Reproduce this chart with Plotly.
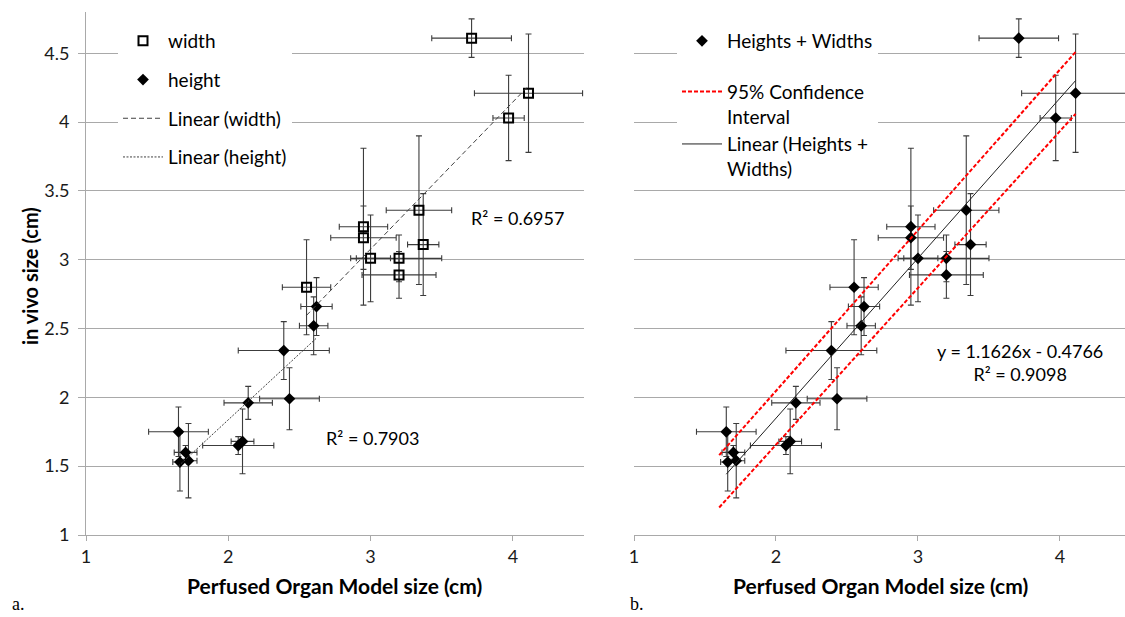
import plotly.graph_objects as go

# ---- data ----
width_x = [3.71, 4.11, 3.97, 3.34, 2.95, 2.95, 3.00, 3.20, 3.20, 3.37, 2.55]
width_y = [4.61, 4.21, 4.03, 3.36, 3.24, 3.16, 3.01, 3.01, 2.89, 3.11, 2.80]
width_xerr = [0.28, 0.38, 0.11, 0.23, 0.17, 0.23, 0.14, 0.30, 0.26, 0.11, 0.17]
width_yerr = [0.14, 0.43, 0.31, 0.54, 0.57, 0.23, 0.315, 0.17, 0.17, 0.37, 0.345]

height_x = [2.62, 2.60, 2.39, 2.43, 2.14, 2.10, 2.07, 1.65, 1.70, 1.66, 1.72]
height_y = [2.66, 2.52, 2.34, 1.99, 1.96, 1.68, 1.65, 1.75, 1.60, 1.53, 1.54]
height_xerr = [0.11, 0.10, 0.32, 0.21, 0.17, 0.08, 0.25, 0.21, 0.08, 0.05, 0.06]
height_yerr = [0.21, 0.21, 0.21, 0.225, 0.12, 0.235, 0.065, 0.18, 0.05, 0.21, 0.27]

# trendline coefficients (slope, intercept)
width_fit = (1.069, -0.130)
height_fit = (0.958, -0.079)
combined_fit = (1.1626, -0.4766)

# 95% confidence interval line end points
ci_x = [1.60, 4.11]
ci_upper = [1.58, 4.51]
ci_lower = [1.20, 4.06]

x_ticks = [1, 2, 3, 4]
y_ticks = [1, 1.5, 2, 2.5, 3, 3.5, 4, 4.5]

FONT = "Lato"
W, H = 1125, 617
ERR = "#3c3c3c"
GRID = "#a9a9a9"


def fit_line(xs, coef):
    lo, hi = min(xs), max(xs)
    return [lo, hi], [coef[0] * lo + coef[1], coef[0] * hi + coef[1]]


def px_x(p):
    return p / W


def px_y(p):
    return 1 - p / H


err_style = dict(type="data", color=ERR, thickness=1.1, width=3)

fig = go.Figure()

# ---- left panel ----
fig.add_trace(go.Scatter(
    x=width_x, y=width_y, mode="markers", name="width",
    marker=dict(symbol="square-open", size=9, color="black", line=dict(width=2, color="black")),
    error_x=dict(array=width_xerr, **err_style), error_y=dict(array=width_yerr, **err_style),
    xaxis="x", yaxis="y", legend="legend", legendgroup="w"))
fig.add_trace(go.Scatter(
    x=height_x, y=height_y, mode="markers", name="height",
    marker=dict(symbol="diamond", size=9, color="black"),
    error_x=dict(array=height_xerr, **err_style), error_y=dict(array=height_yerr, **err_style),
    xaxis="x", yaxis="y", legend="legend", legendgroup="h"))
lx, ly = fit_line(width_x, width_fit)
fig.add_trace(go.Scatter(
    x=lx, y=ly, mode="lines", name="Linear (width)",
    line=dict(color="#404040", width=1, dash="5px,3px"),
    xaxis="x", yaxis="y", legend="legend", legendgroup="lw"))
lx, ly = fit_line(height_x, height_fit)
fig.add_trace(go.Scatter(
    x=lx, y=ly, mode="lines", name="Linear (height)",
    line=dict(color="#404040", width=1, dash="2px,1.5px"),
    xaxis="x", yaxis="y", legend="legend", legendgroup="lh"))

# ---- right panel ----
all_x = width_x + height_x
all_y = width_y + height_y
all_xerr = width_xerr + height_xerr
all_yerr = width_yerr + height_yerr
fig.add_trace(go.Scatter(
    x=all_x, y=all_y, mode="markers", name="Heights + Widths",
    marker=dict(symbol="diamond", size=9, color="black"),
    error_x=dict(array=all_xerr, **err_style), error_y=dict(array=all_yerr, **err_style),
    xaxis="x2", yaxis="y2", legend="legend2", legendgroup="hw"))
fig.add_trace(go.Scatter(
    x=ci_x, y=ci_upper, mode="lines", name="95% Confidence<br>Interval",
    line=dict(color="#ff0000", width=2, dash="4px,2px"),
    xaxis="x2", yaxis="y2", legend="legend2", legendgroup="fits"))
fig.add_trace(go.Scatter(
    x=ci_x, y=ci_lower, mode="lines", name="95% Confidence Interval (lower)", showlegend=False,
    line=dict(color="#ff0000", width=2, dash="4px,2px"),
    xaxis="x2", yaxis="y2", legend="legend2", legendgroup="fits"))
lx, ly = fit_line(all_x, combined_fit)
fig.add_trace(go.Scatter(
    x=lx, y=ly, mode="lines", name="Linear (Heights +<br>Widths)",
    line=dict(color="#202020", width=1),
    xaxis="x2", yaxis="y2", legend="legend2", legendgroup="fits"))

ydom = [px_y(535), px_y(12)]
TICKFONT = dict(family=FONT, size=18, color="#1a1a1a")
xaxis_common = dict(tickvals=x_ticks, showgrid=False, showline=True, linecolor=GRID, linewidth=1,
                    ticks="outside", ticklen=5, tickcolor=GRID, zeroline=False, tickfont=TICKFONT)
yaxis_common = dict(range=[1, 4.8], domain=ydom, tickvals=y_ticks, showgrid=True, gridcolor=GRID,
                    gridwidth=1, zeroline=False)


def ann(text, x, y, size=18, family=FONT, **kw):
    d = dict(text=text, x=px_x(x), y=px_y(y), xref="paper", yref="paper", showarrow=False,
             xanchor="center", yanchor="middle", font=dict(family=family, size=size, color="black"))
    d.update(kw)
    return d


fig.update_layout(
    width=W, height=H,
    margin=dict(l=0, r=0, t=0, b=0, autoexpand=False),
    paper_bgcolor="white", plot_bgcolor="white",
    font=dict(family=FONT, size=18, color="black"),
    xaxis=dict(domain=[px_x(86), px_x(584)], range=[1, 4.5], anchor="y", **xaxis_common),
    yaxis=dict(anchor="x", showline=True, linecolor=GRID, ticks="outside", ticklen=7, tickcolor=GRID,
               tickfont=TICKFONT, ticklabelstandoff=5, **yaxis_common),
    xaxis2=dict(domain=[px_x(634), 1.0], range=[1, 4.458], anchor="y2", **xaxis_common),
    yaxis2=dict(anchor="x2", showline=False, showticklabels=False, ticks="", **yaxis_common),
    showlegend=True,
    legend=dict(x=px_x(118), y=px_y(22), xanchor="left", yanchor="top", bgcolor="white",
                font=dict(family=FONT, size=19, color="black"), traceorder="grouped",
                tracegroupgap=11, itemwidth=40),
    legend2=dict(x=px_x(677), y=px_y(22), xanchor="left", yanchor="top", bgcolor="white",
                 font=dict(family=FONT, size=19, color="black"), traceorder="grouped",
                 tracegroupgap=23, itemwidth=40, valign="top"),
    annotations=[
        ann("<b>in vivo size (cm)</b>", 30, 276, size=20, textangle=-90),
        ann("<b>Perfused Organ Model size (cm)</b>", 335, 585, size=21),
        ann("<b>Perfused Organ Model size (cm)</b>", 880, 585, size=21),
        ann("R² = 0.6957", 517, 218),
        ann("R² = 0.7903", 372, 438),
        ann("y = 1.1626x - 0.4766<br>R² = 0.9098", 1020, 362, align="center"),
        ann("a.", 10, 604, size=18, family="Liberation Serif", xanchor="left"),
        ann("b.", 628, 604, size=18, family="Liberation Serif", xanchor="left"),
    ],
)

fig.write_html("out.html")
